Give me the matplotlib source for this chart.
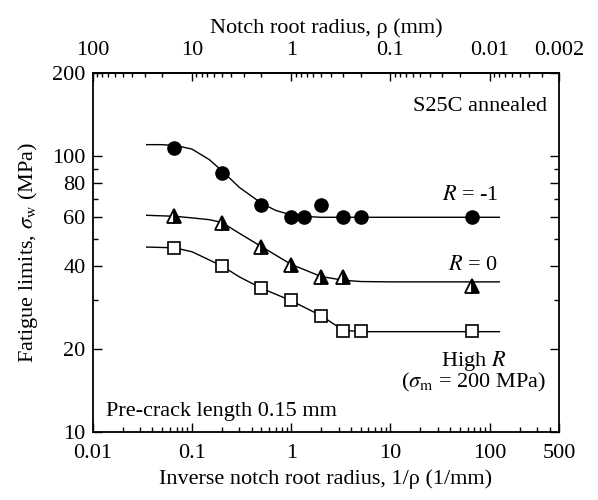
import numpy as np
import matplotlib.pyplot as plt
from matplotlib.ticker import FixedLocator, NullFormatter

plt.rcParams['font.family'] = ['Liberation Serif', 'DejaVu Serif']
plt.rcParams['mathtext.fontset'] = 'stix'
plt.rcParams['font.size'] = 16

# Data: inverse notch root radius 1/rho (1/mm) and fatigue limit (MPa)
x_rm1 = [1/15, 0.2, 0.5, 1.0, 4/3, 2.0, 10/3, 5.0, 1/0.015]
s_rm1 = [107, 86.5, 66.5, 60, 60, 66.5, 60, 60, 60]
x_r0 = [1/15, 0.2, 0.5, 1.0, 2.0, 10/3, 1/0.015]
s_r0 = [60.5, 57, 47, 40.2, 36.4, 36.4, 33.7]
x_hr = [1/15, 0.2, 0.5, 1.0, 2.0, 10/3, 5.0, 1/0.015]
s_hr = [46.5, 40, 33.2, 30, 26.4, 23.2, 23.2, 23.2]

# Fitted curves
cx_rm1 = [0.035, 0.05, 0.07, 0.1, 0.15, 0.2, 0.3, 0.5, 0.7, 1.0, 1.5, 2.0, 5.0, 125]
cy_rm1 = [110, 110, 109, 106, 97, 88.5, 77, 67.5, 63.5, 61.2, 60.3, 60, 60, 60]
cx_r0 = [0.035, 0.067, 0.1, 0.15, 0.2, 0.3, 0.5, 1.0, 2.0, 3.33, 5.0, 10, 125]
cy_r0 = [61, 60.5, 59.7, 58.8, 57.5, 52.5, 47, 40.5, 36.6, 35.5, 35.1, 35, 35]
cx_hr = [0.035, 0.067, 0.1, 0.15, 0.2, 0.3, 0.5, 1.0, 2.0, 3.33, 5.0, 125]
cy_hr = [46.8, 46.5, 45, 42, 40, 36.5, 33.2, 29.9, 26.4, 23.4, 23.1, 23.1]

fig = plt.figure(figsize=(5.98, 5.0), dpi=100)
ax = fig.add_axes([0.155, 0.136, 0.78, 0.718])

ax.plot(cx_rm1, cy_rm1, color='black', lw=1.0, zorder=2)
ax.plot(cx_r0, cy_r0, color='black', lw=1.0, zorder=2)
ax.plot(cx_hr, cy_hr, color='black', lw=1.0, zorder=2)

ax.plot(x_rm1, s_rm1, 'o', color='black', ms=9.5, zorder=3)
ax.plot(x_r0, s_r0, '^', ms=9.5, markerfacecolor='black', markerfacecoloralt='white',
        fillstyle='right', markeredgecolor='black', markeredgewidth=1.3, zorder=3)
ax.plot(x_hr, s_hr, 's', ms=8, markerfacecolor='white', markeredgecolor='black',
        markeredgewidth=1.2, zorder=3)

ax.set_xscale('log')
ax.set_yscale('log')
ax.set_xlim(0.01, 500)
ax.set_ylim(10, 200)

# bottom axis ticks
ax.set_xticks([0.01, 0.1, 1, 10, 100, 500])
ax.set_xticklabels(['0.01', '0.1', '1', '10', '100', '500'])
xminor = [m * 10.0**e for e in range(-2, 2) for m in range(2, 10)] + [200, 300, 400]
ax.xaxis.set_minor_locator(FixedLocator(xminor))
ax.xaxis.set_minor_formatter(NullFormatter())

# left / right axis ticks
ax.set_yticks([10, 20, 40, 60, 80, 100, 200])
ax.set_yticklabels(['10', '20', '40', '60', '80', '100', '200'])
ax.yaxis.set_minor_locator(FixedLocator([30, 50, 70, 90]))
ax.yaxis.set_minor_formatter(NullFormatter())

ax.tick_params(which='both', direction='in', top=False, right=True, width=1.0)
ax.tick_params(which='major', length=6.5)
ax.tick_params(which='minor', length=3.5)
ax.tick_params(axis='x', which='major', pad=9)
ax.tick_params(axis='y', which='major', pad=5)
for sp in ax.spines.values():
    sp.set_linewidth(1.3)

# top axis: notch root radius rho = 1 / x
inv = lambda v: 1.0 / np.asarray(v, dtype=float)
sec = ax.secondary_xaxis('top', functions=(inv, inv))
sec.set_xticks([100, 10, 1, 0.1, 0.01, 0.002])
sec.set_xticklabels(['100', '10', '1', '0.1', '0.01', '0.002'])
rminor = [m * 10.0**e for e in range(-2, 2) for m in range(2, 10)]
rminor = rminor + [0.003, 0.004, 0.005, 0.006, 0.007, 0.008, 0.009]
sec.xaxis.set_minor_locator(FixedLocator(sorted(set(rminor))))
sec.xaxis.set_minor_formatter(NullFormatter())
sec.tick_params(which='both', direction='in', width=1.0)
sec.tick_params(which='major', length=6, pad=9)
sec.tick_params(which='minor', length=3)
sec.spines['top'].set_linewidth(1.3)
sec.set_xlabel('Notch root radius, ρ (mm)', labelpad=6)

ax.set_xlabel('Inverse notch root radius, 1/ρ (1/mm)', labelpad=4)
ax.set_ylabel(r'Fatigue limits, $\sigma_{\rm w}$ (MPa)', labelpad=9)

ax.text(380, 151, 'S25C annealed', ha='right', va='center')
ax.text(124, 72, r'$R$ = -1', ha='right', va='center')
ax.text(120, 40.2, r'$R$ = 0', ha='right', va='center')
ax.text(68, 18.1, r'High $R$', ha='center', va='center')
ax.text(68, 15.1, r'($\sigma_{\rm m}$ = 200 MPa)', ha='center', va='center')
ax.text(0.0136, 11.9, 'Pre-crack length 0.15 mm', ha='left', va='center')

fig.savefig('out.png', dpi=100)
